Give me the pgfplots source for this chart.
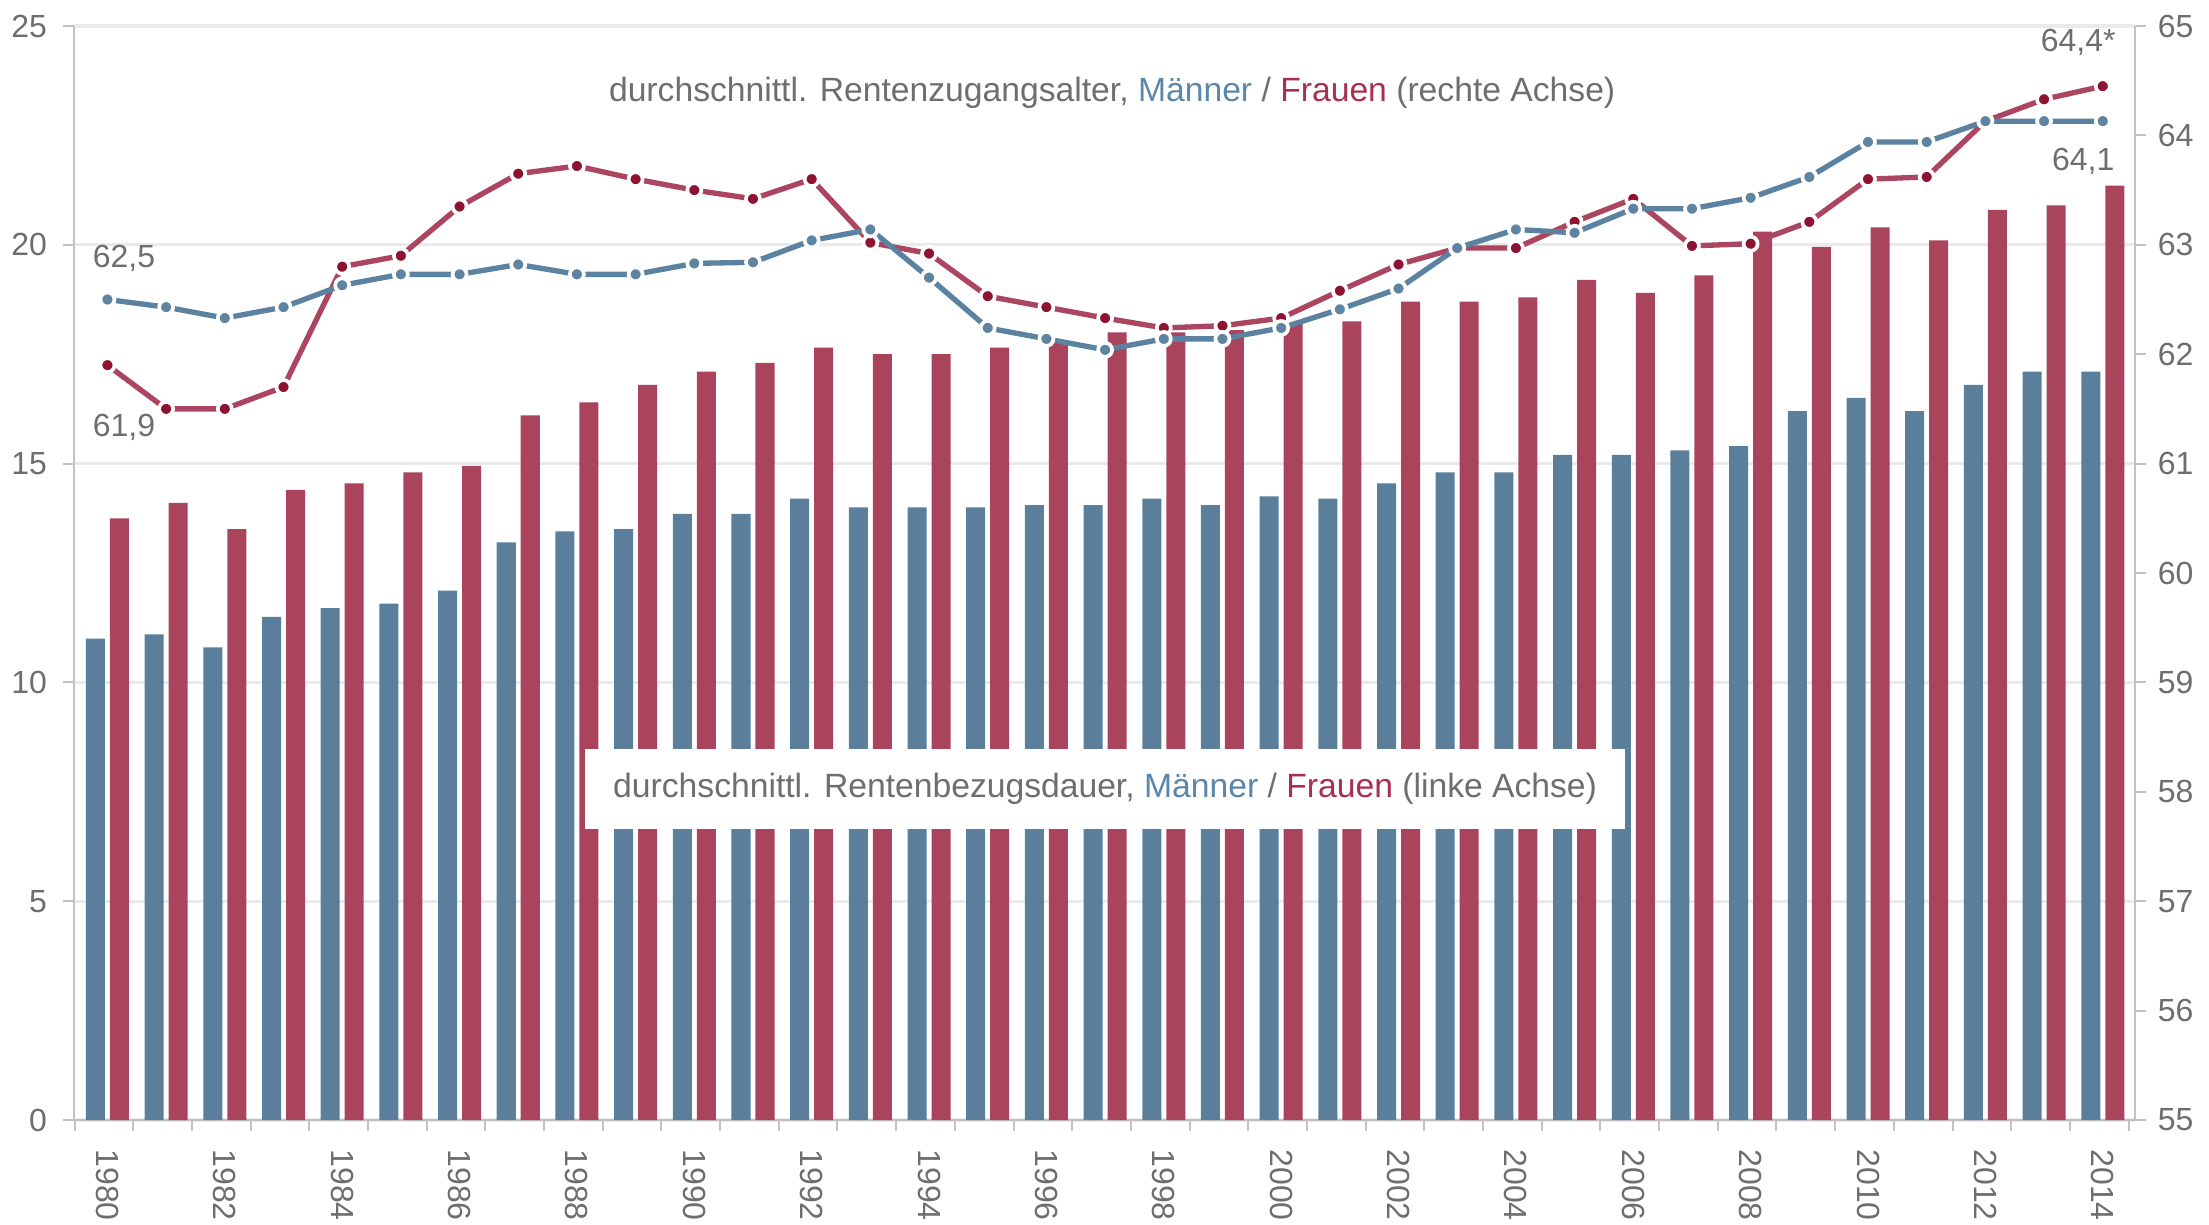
\documentclass[border=0pt]{standalone}
\usepackage{fontspec}
\setmainfont{Liberation Sans}
\usepackage{pgfplots}
\pgfplotsset{compat=1.18}
\definecolor{barblue}{HTML}{5B7F9B}
\definecolor{barred}{HTML}{AA445C}
\definecolor{lineblue}{HTML}{5B82A0}
\definecolor{linered}{HTML}{AC4560}
\definecolor{dotred}{HTML}{8E1232}
\definecolor{dotblue}{HTML}{5E84A2}
\definecolor{textgray}{HTML}{6E6E6E}
\definecolor{gridgray}{HTML}{EAEAEA}
\definecolor{axisgray}{HTML}{C2C2C2}
\definecolor{txtblue}{HTML}{5A87A8}
\definecolor{txtred}{HTML}{A8304E}
\pgfplotsset{
  common/.style={
    at={(0,0)}, anchor=south west,
    width=618.3pt, height=328.2pt, scale only axis,
    xmin=1979.43, xmax=2014.55,
    tick align=outside,
    major tick length=3.3pt, minor tick length=3.3pt,
    tick style={draw=axisgray, line width=0.6pt},
    axis line style={-, draw=axisgray, line width=0.6pt},
    tick label style={font=\fontsize{9.6}{10}\selectfont, text=textgray},
    /pgf/number format/1000 sep={},
    /pgf/number format/assume math mode=true,
  },
}
\begin{document}
\begin{tikzpicture}
\begin{axis}[common,
  ymin=0, ymax=25, ytick={0,5,...,25},
  axis y line*=left, axis x line*=bottom,
  xtick={1980,1982,...,2014},
  minor xtick={1979.44,1980.44,...,2014.44},
  major x tick style={draw=none},
  xticklabel style={rotate=-90, anchor=west},
  xticklabel shift=2pt,
  yticklabel shift=1.3pt,
  ymajorgrids, grid style={draw=gridgray, line width=1pt},
]
% Maenner, Rentenbezugsdauer
\addplot[ybar, bar width=0.324, bar shift=-0.2045, fill=barblue, draw=none] coordinates {
(1980,11.0) (1981,11.1) (1982,10.8) (1983,11.5) (1984,11.7) (1985,11.8) (1986,12.1)
(1987,13.2) (1988,13.45) (1989,13.5) (1990,13.85) (1991,13.85) (1992,14.2) (1993,14.0)
(1994,14.0) (1995,14.0) (1996,14.05) (1997,14.05) (1998,14.2) (1999,14.05) (2000,14.25)
(2001,14.2) (2002,14.55) (2003,14.8) (2004,14.8) (2005,15.2) (2006,15.2) (2007,15.3)
(2008,15.4) (2009,16.2) (2010,16.5) (2011,16.2) (2012,16.8) (2013,17.1) (2014,17.1)};
% Frauen, Rentenbezugsdauer
\addplot[ybar, bar width=0.324, bar shift=0.2045, fill=barred, draw=none] coordinates {
(1980,13.75) (1981,14.1) (1982,13.5) (1983,14.4) (1984,14.55) (1985,14.8) (1986,14.95)
(1987,16.1) (1988,16.4) (1989,16.8) (1990,17.1) (1991,17.3) (1992,17.65) (1993,17.5)
(1994,17.5) (1995,17.65) (1996,17.8) (1997,18.0) (1998,18.0) (1999,18.05) (2000,18.2)
(2001,18.25) (2002,18.7) (2003,18.7) (2004,18.8) (2005,19.2) (2006,18.9) (2007,19.3)
(2008,20.3) (2009,19.95) (2010,20.4) (2011,20.1) (2012,20.8) (2013,20.9) (2014,21.35)};
\end{axis}
\begin{axis}[common,
  ymin=55, ymax=65, ytick={55,56,...,65},
  axis y line*=right, axis x line=none,
  clip=false,
]
% Frauen, Rentenzugangsalter
\addplot[linered, line width=1.6pt, mark=*, mark size=2.1pt,
  mark options={fill=dotred, draw=white, line width=1.1pt, solid}] coordinates {
(1980,61.9) (1981,61.5) (1982,61.5) (1983,61.7) (1984,62.8) (1985,62.9) (1986,63.35)
(1987,63.65) (1988,63.72) (1989,63.6) (1990,63.5) (1991,63.42) (1992,63.6) (1993,63.02)
(1994,62.92) (1995,62.53) (1996,62.43) (1997,62.33) (1998,62.24) (1999,62.26) (2000,62.33)
(2001,62.58) (2002,62.82) (2003,62.97) (2004,62.97) (2005,63.21) (2006,63.42) (2007,62.99)
(2008,63.01) (2009,63.21) (2010,63.6) (2011,63.62) (2012,64.13) (2013,64.33) (2014,64.45)};
% Maenner, Rentenzugangsalter
\addplot[lineblue, line width=1.6pt, mark=*, mark size=2.1pt,
  mark options={fill=dotblue, draw=white, line width=1.1pt, solid}] coordinates {
(1980,62.5) (1981,62.43) (1982,62.33) (1983,62.43) (1984,62.63) (1985,62.73) (1986,62.73)
(1987,62.82) (1988,62.73) (1989,62.73) (1990,62.83) (1991,62.84) (1992,63.04) (1993,63.14)
(1994,62.7) (1995,62.24) (1996,62.14) (1997,62.04) (1998,62.14) (1999,62.14) (2000,62.24)
(2001,62.41) (2002,62.6) (2003,62.97) (2004,63.14) (2005,63.11) (2006,63.33) (2007,63.33)
(2008,63.43) (2009,63.62) (2010,63.94) (2011,63.94) (2012,64.13) (2013,64.13) (2014,64.13)};
\node[anchor=west, inner sep=0, text=textgray, font=\fontsize{9.6}{10}\selectfont] at (axis cs:1979.74,62.88) {62,5};
\node[anchor=west, inner sep=0, text=textgray, font=\fontsize{9.6}{10}\selectfont] at (axis cs:1979.74,61.33) {61,9};
\node[anchor=east, inner sep=0, text=textgray, font=\fontsize{9.6}{10}\selectfont] at (axis cs:2014.23,64.85) {64,4*};
\node[anchor=east, inner sep=0, text=textgray, font=\fontsize{9.6}{10}\selectfont] at (axis cs:2014.21,63.76) {64,1};
\node[anchor=base, inner sep=0, text=textgray, font=\fontsize{10.1}{12}\selectfont] at (axis cs:1997.12,64.31)
  {durchschnittl. Rentenzugangsalter, \textcolor{txtblue}{Männer} / \textcolor{txtred}{Frauen} (rechte Achse)};
\node[fill=white, minimum width=312pt, minimum height=24pt, inner sep=0, text=textgray, font=\fontsize{10.1}{12}\selectfont] at (axis cs:1997.0,58.03)
  {durchschnittl. Rentenbezugsdauer, \textcolor{txtblue}{Männer} / \textcolor{txtred}{Frauen} (linke Achse)};
\end{axis}
\pgfresetboundingbox
\path[use as bounding box] (-22.2pt,-31.2pt) rectangle (640.5pt,336pt);
\end{tikzpicture}
\end{document}
